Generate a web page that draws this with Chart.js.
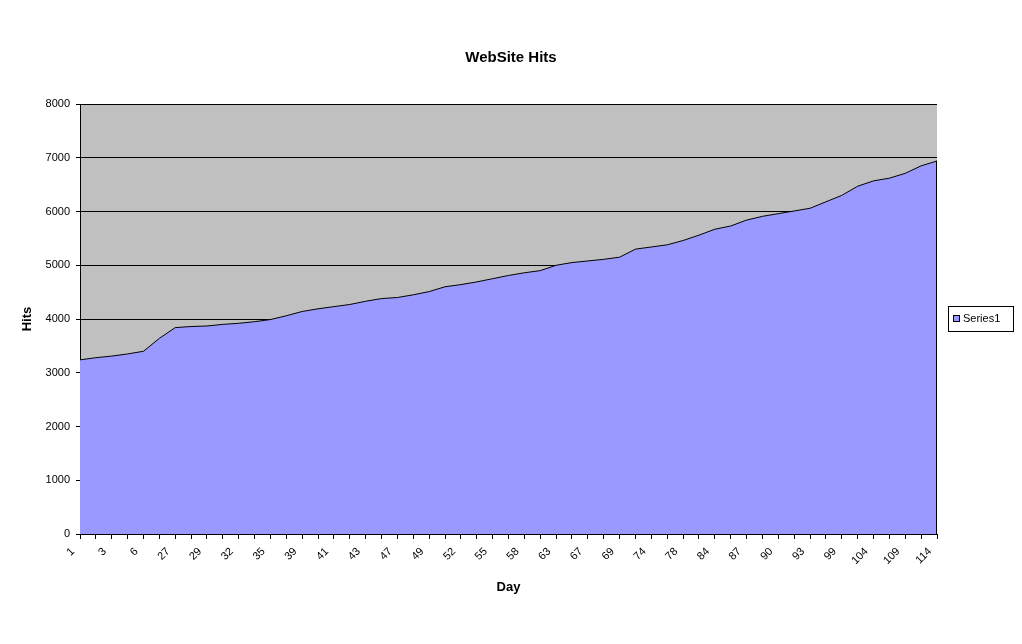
<!DOCTYPE html>
<html>
<head>
<meta charset="utf-8">
<script src="https://cdn.jsdelivr.net/npm/chart.js@4/dist/chart.umd.min.js"></script>
<style>
html,body{margin:0;padding:0;background:#fff;}
#wrap{width:1022px;height:644px;position:relative;}
</style>
</head>
<body>
<div id="wrap"><canvas id="c" width="1022" height="644"></canvas></div>
<script>
const chartTitle = 'WebSite Hits';
const xTitle = 'Day';
const yTitle = 'Hits';
const seriesName = 'Series1';
const days = [1,2,3,5,6,26,27,28,29,31,32,34,35,37,39,40,41,42,43,46,47,48,49,51,52,54,55,57,58,62,63,65,67,68,69,72,74,77,78,83,84,86,87,89,90,91,93,98,99,102,104,108,109,111,114];
const hits = [3240,3280,3310,3350,3400,3640,3840,3860,3870,3900,3920,3950,3990,4060,4140,4190,4230,4270,4330,4380,4400,4450,4510,4600,4640,4690,4750,4810,4860,4900,5000,5050,5080,5110,5150,5300,5340,5380,5460,5560,5670,5730,5840,5910,5960,6010,6060,6180,6300,6470,6570,6620,6710,6850,6940];
const yMin = 0, yMax = 8000, yStep = 1000;

const FONT = "'Liberation Sans', Arial, sans-serif";

const plotBg = {
  id: 'plotBg',
  beforeDraw(chart) {
    const {ctx, chartArea: a} = chart;
    ctx.save();
    ctx.fillStyle = '#C0C0C0';
    ctx.fillRect(a.left, a.top, a.right - a.left, a.bottom - a.top);
    ctx.restore();
  },
  afterDatasetsDraw(chart) {
    const {ctx} = chart;
    const meta = chart.getDatasetMeta(0);
    const last = meta.data[meta.data.length - 1];
    const yb = chart.scales.y.getPixelForValue(0);
    ctx.save();
    ctx.strokeStyle = '#000';
    ctx.lineWidth = 1;
    ctx.beginPath();
    ctx.moveTo(Math.round(last.x) - 0.5, last.y);
    ctx.lineTo(Math.round(last.x) - 0.5, yb);
    ctx.stroke();
    ctx.restore();
  },
  afterDraw(chart) {
    const {ctx} = chart;
    ctx.save();
    // chart title, centred on the whole canvas
    ctx.fillStyle = '#000';
    ctx.font = 'bold 15px ' + FONT;
    ctx.textAlign = 'center';
    ctx.textBaseline = 'middle';
    ctx.fillText(chartTitle, chart.width / 2, 58);
    // legend
    ctx.strokeStyle = '#000';
    ctx.lineWidth = 1;
    ctx.fillStyle = '#fff';
    ctx.fillRect(948, 306, 65, 25);
    ctx.strokeRect(948.5, 306.5, 65, 25);
    ctx.fillStyle = '#9999FF';
    ctx.fillRect(953, 315, 7, 7);
    ctx.strokeRect(953.5, 315.5, 6, 6);
    ctx.fillStyle = '#000';
    ctx.font = '11px ' + FONT;
    ctx.textBaseline = 'middle';
    ctx.textAlign = 'left';
    ctx.fillText(seriesName, 963, 319);
    ctx.restore();
  }
};

new Chart(document.getElementById('c'), {
  type: 'line',
  data: {
    labels: days,
    datasets: [{
      label: seriesName,
      data: hits,
      fill: 'origin',
      backgroundColor: '#9999FF',
      borderColor: '#000',
      borderWidth: 1,
      pointRadius: 0,
      pointHoverRadius: 0,
      tension: 0
    }]
  },
  options: {
    responsive: false,
    animation: false,
    events: [],
    layout: { padding: { left: 0, right: 85, top: 104, bottom: 0 } },
    plugins: {
      legend: { display: false },
      tooltip: { enabled: false },
      title: { display: false }
    },
    scales: {
      x: {
        type: 'category',
        offset: false,
        afterFit(scale) { scale.height = 110; },
        grid: { display: true, drawOnChartArea: false, drawTicks: true, tickLength: 5, color: '#000' },
        border: { display: true, color: '#000', width: 1 },
        ticks: {
          autoSkip: false,
          minRotation: 45,
          maxRotation: 45,
          padding: 6,
          labelOffset: -7,
          color: '#000',
          font: { family: FONT, size: 11 },
          callback(value, index) { return index % 2 === 0 ? String(days[index]) : ''; }
        },
        title: {
          display: true,
          text: xTitle,
          color: '#000',
          font: { family: FONT, size: 13, weight: 'bold' },
          padding: { top: 0, bottom: 49 }
        }
      },
      y: {
        min: yMin,
        max: yMax,
        afterFit(scale) { scale.width = 80; },
        grid: { display: true, drawOnChartArea: true, drawTicks: true, tickLength: 4, color: '#000' },
        border: { display: true, color: '#000', width: 1 },
        ticks: {
          stepSize: yStep,
          padding: 6,
          color: '#000',
          font: { family: FONT, size: 11 },
          callback(value) { return String(value); }
        },
        title: {
          display: true,
          text: yTitle,
          color: '#000',
          font: { family: FONT, size: 13, weight: 'bold' },
          padding: { top: 20, bottom: 0 }
        }
      }
    }
  },
  plugins: [plotBg]
});
</script>
</body>
</html>
